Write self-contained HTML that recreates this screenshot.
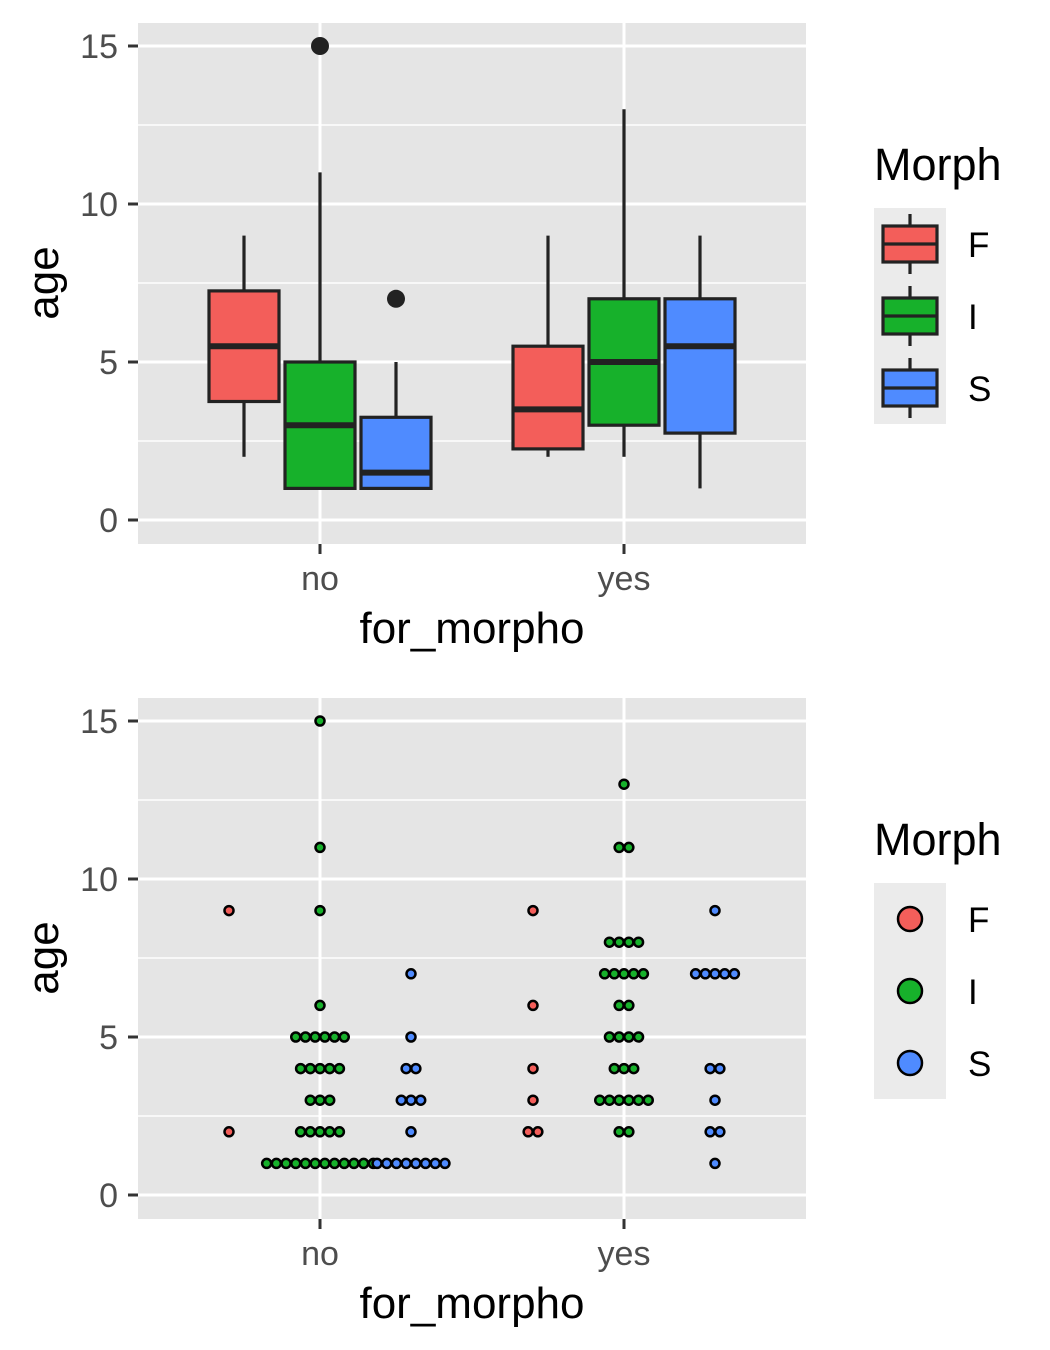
<!DOCTYPE html>
<html><head><meta charset="utf-8"><style>
body{margin:0;background:#fff}
svg{display:block;font-family:"Liberation Sans",Arial,sans-serif}
</style></head><body>
<svg id="c" width="1050" height="1350" viewBox="0 0 1050 1350"></svg>
<script>
const groups=["no","yes"];
const morphs=["F","I","S"];
const fills=["#F35E5A","#17B12B","#4F8BFF"];
const yTicks=[0,5,10,15];
// box stats: [lower whisker, q1, median, q3, upper whisker]
const boxNo=[[2,3.75,5.5,7.25,9],[1,1,3,5,11],[1,1,1.5,3.25,5]];
const boxYes=[[2,2.25,3.5,5.5,9],[2,3,5,7,13],[1,2.75,5.5,7,9]];
const outliersNo=[[],[15],[7]];
const outliersYes=[[],[],[]];
// dot counts: [age, count]
const dotsNoF=[[9,1],[2,1]];
const dotsNoI=[[15,1],[11,1],[9,1],[6,1],[5,6],[4,5],[3,3],[2,5],[1,12]];
const dotsNoS=[[7,1],[5,1],[4,2],[3,3],[2,1],[1,8]];
const dotsYesF=[[9,1],[6,1],[4,1],[3,1],[2,2]];
const dotsYesI=[[13,1],[11,2],[8,4],[7,5],[6,2],[5,4],[4,3],[3,6],[2,2]];
const dotsYesS=[[9,1],[7,5],[4,2],[3,1],[2,2],[1,1]];

const NS="http://www.w3.org/2000/svg";
const svg=document.getElementById('c');
function mk(t,a,p){const e=document.createElementNS(NS,t);for(const k in a)e.setAttribute(k,a[k]);(p||svg).appendChild(e);return e;}
const xPos=g=>320+g*304;
const boxDodge=m=>(m-1)*76;
const dotDodge=m=>(m-1)*91;

function panel(top,name){
  const y0=top+497, unit=31.6;
  const y=v=>y0-v*unit;
  const g=mk('g',{});
  
  
  const bg=mk('rect',{x:138,y:top,width:668,height:521,fill:'#E5E5E5'},g);
  
  [2.5,7.5,12.5].forEach(v=>mk('line',{x1:138,x2:806,y1:y(v),y2:y(v),stroke:'#fff','stroke-width':1.5},g));
  yTicks.forEach(v=>{
    mk('line',{x1:138,x2:806,y1:y(v),y2:y(v),stroke:'#fff','stroke-width':3},g);
    mk('line',{x1:128,x2:138,y1:y(v),y2:y(v),stroke:'#333','stroke-width':3},g);
    const t=mk('text',{x:118,y:y(v)+12,'text-anchor':'end','font-size':34,fill:'#4D4D4D'},g);t.textContent=v;
    
  });
  groups.forEach((gr,i)=>{
    mk('line',{x1:xPos(i),x2:xPos(i),y1:top,y2:top+521,stroke:'#fff','stroke-width':3},g);
    mk('line',{x1:xPos(i),x2:xPos(i),y1:top+521,y2:top+531,stroke:'#333','stroke-width':3},g);
    const t=mk('text',{x:xPos(i),y:top+567,'text-anchor':'middle','font-size':34,fill:'#4D4D4D'},g);t.textContent=gr;
    
  });
  const xt=mk('text',{x:472,y:top+620,'text-anchor':'middle','font-size':44,fill:'#000'},g);xt.textContent='for_morpho';
  
  const yt=mk('text',{x:0,y:0,transform:`translate(58,${top+260}) rotate(-90)`,'text-anchor':'middle','font-size':44,fill:'#000'},g);yt.textContent='age';
  
  return {g,y};
}

const p1=panel(23,'boxplot-panel');
[boxNo,boxYes].forEach((bs,gi)=>{
  bs.forEach((b,m)=>{
    const cx=xPos(gi)+boxDodge(m), y=p1.y;
    const bx=mk('g',{},p1.g);
    
    
    mk('line',{x1:cx,x2:cx,y1:y(b[4]),y2:y(b[3]),stroke:'#222','stroke-width':3.2},bx);
    mk('line',{x1:cx,x2:cx,y1:y(b[1]),y2:y(b[0]),stroke:'#222','stroke-width':3.2},bx);
    mk('rect',{x:cx-35,y:y(b[3]),width:70,height:y(b[1])-y(b[3]),fill:fills[m],stroke:'#222','stroke-width':3.2},bx);
    mk('line',{x1:cx-35,x2:cx+35,y1:y(b[2]),y2:y(b[2]),stroke:'#222','stroke-width':6},bx);
    const outs=(gi==0?outliersNo:outliersYes)[m];
    outs.forEach(o=>{const c=mk('circle',{cx:cx,cy:y(o),r:9,fill:'#222'},bx);
      });
  });
});

const p2=panel(698,'dotplot-panel');
const allDots=[[dotsNoF,dotsNoI,dotsNoS],[dotsYesF,dotsYesI,dotsYesS]];
allDots.forEach((ms,gi)=>ms.forEach((rows,m)=>{
  const cx=xPos(gi)+dotDodge(m);
  rows.forEach(([age,n])=>{
    for(let k=0;k<n;k++){
      const c=mk('circle',{cx:cx+(k-(n-1)/2)*9.7,cy:p2.y(age),r:4.5,fill:fills[m],stroke:'#000','stroke-width':2.5},p2.g);
      
      
    }
  });
}));

function legend(top,type){
  const g=mk('g',{});
  
  
  const t=mk('text',{x:874,y:top-28,'font-size':45,fill:'#000'},g);t.textContent='Morph';
  mk('rect',{x:874,y:top,width:72,height:216,fill:'#EBEBEB'},g);
  morphs.forEach((m,i)=>{
    const cy=top+36+i*72;
    const e=mk('g',{},g);
    
    
    if(type=='box'){
      mk('line',{x1:910,x2:910,y1:cy-30,y2:cy+30,stroke:'#222','stroke-width':3.2},e);
      mk('rect',{x:883,y:cy-18,width:54,height:36,fill:fills[i],stroke:'#222','stroke-width':3.2},e);
      mk('line',{x1:883,x2:937,y1:cy,y2:cy,stroke:'#222','stroke-width':3.2},e);
    } else {
      mk('circle',{cx:910,cy:cy,r:12,fill:fills[i],stroke:'#000','stroke-width':2.5},e);
    }
    const l=mk('text',{x:968,y:cy+13,'font-size':35,fill:'#000'},e);l.textContent=m;
  });
}
legend(208,'box');
legend(883,'dot');
</script>
</body></html>
